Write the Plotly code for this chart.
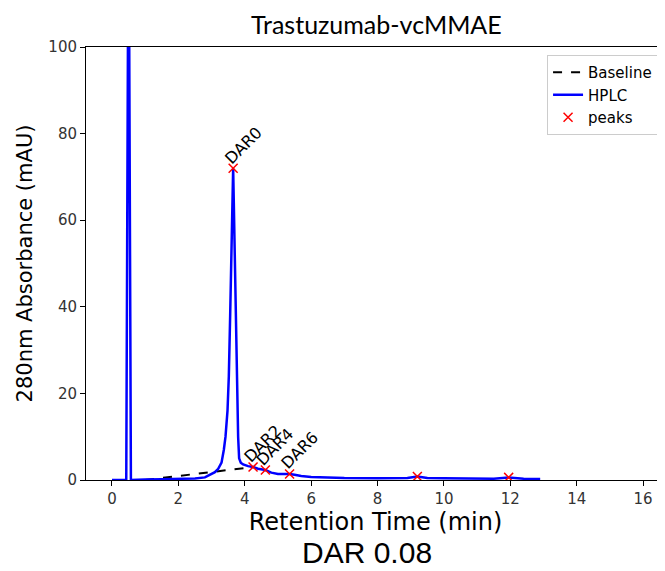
import plotly.graph_objects as go

# HPLC trace (retention time in min, absorbance in mAU)
hplc_time = [0.0, 0.40, 0.43, 0.495, 0.505, 0.57, 0.60, 1.0, 1.5, 2.0, 2.5, 2.8,
             3.0, 3.1, 3.2, 3.3, 3.37, 3.42, 3.48, 3.52, 3.56, 3.60, 3.63, 3.65,
             3.67, 3.70, 3.73, 3.76, 3.80, 3.83, 3.88, 3.95, 4.1, 4.25, 4.4, 4.62,
             4.8, 5.0, 5.2, 5.35, 5.5, 5.7, 6.0, 6.5, 7.0, 8.0, 8.9, 9.2, 9.5,
             10.0, 10.9, 11.5, 11.95, 12.4, 12.9]
hplc_abs = [0.0, 0.0, 0.0, 130.0, 130.0, 0.0, 0.0, 0.1, 0.2, 0.25, 0.35, 0.6,
            1.3, 1.8, 2.6, 4.0, 7.0, 10.0, 16.0, 24.0, 38.0, 57.0, 68.0, 72.0,
            64.0, 50.0, 38.0, 22.0, 10.0, 5.0, 4.0, 3.6, 3.2, 3.0, 2.6, 2.3,
            1.7, 1.4, 1.4, 1.4, 1.2, 0.9, 0.7, 0.5, 0.45, 0.4, 0.45, 0.8, 0.45,
            0.4, 0.35, 0.3, 0.6, 0.3, 0.25]

baseline_time = [1.0, 4.25]
baseline_abs = [0.0, 3.0]

peak_time = [3.65, 4.25, 4.62, 5.35, 9.2, 11.95]
peak_abs = [72.0, 3.0, 2.3, 1.4, 0.8, 0.6]
peak_labels = ["DAR0", "DAR2", "DAR4", "DAR6", "", ""]

title_text = "Trastuzumab-vcMMAE"
dar_text = "DAR 0.08"

fig = go.Figure()

fig.add_trace(go.Scatter(
    x=baseline_time, y=baseline_abs, mode="lines", name="Baseline",
    line=dict(color="black", width=2, dash="dash")
))
fig.add_trace(go.Scatter(
    x=hplc_time, y=hplc_abs, mode="lines", name="HPLC",
    line=dict(color="#0000ff", width=2.5)
))
fig.add_trace(go.Scatter(
    x=peak_time, y=peak_abs, mode="markers", name="peaks",
    marker=dict(symbol="x-thin", size=9, color="red",
                line=dict(color="red", width=1.5))
))

for t, a, lab in zip(peak_time, peak_abs, peak_labels):
    if not lab:
        continue
    fig.add_annotation(
        x=t, y=a, text=lab, showarrow=False, textangle=-45,
        xanchor="left", yanchor="bottom", xshift=-15, yshift=-2,
        font=dict(family="DejaVu Sans", size=16, color="black")
    )

fig.add_annotation(
    x=0.502, y=1.0, xref="paper", yref="paper", yshift=23,
    text=title_text, showarrow=False, xanchor="center", yanchor="middle",
    font=dict(family="Lato", size=25, color="black")
)
fig.add_annotation(
    x=0.485, y=-0.2102, xref="paper", yref="paper",
    text=dar_text, showarrow=False, xanchor="center", yanchor="bottom",
    font=dict(family="Liberation Sans", size=30, color="black")
)

fig.update_xaxes(
    range=[-0.783, 16.66], tickmode="array", tickvals=list(range(0, 17, 2)),
    showline=True, linecolor="black", linewidth=1, mirror=True, automargin=False,
    ticks="outside", ticklen=5, tickcolor="black", showgrid=False, zeroline=False,
    tickfont=dict(family="DejaVu Sans", size=15, color="#333333"),
    title=dict(text="Retention Time (min)", standoff=0,
               font=dict(family="DejaVu Sans", size=24, color="black"))
)
fig.update_yaxes(
    range=[0, 100], tickmode="array", tickvals=list(range(0, 101, 20)),
    showline=True, linecolor="black", linewidth=1, automargin=False,
    ticks="outside", ticklen=5, tickcolor="black", showgrid=False, zeroline=False,
    tickfont=dict(family="DejaVu Sans", size=15, color="#333333"),
    title=dict(text="280nm Absorbance (mAU)", standoff=10,
               font=dict(family="DejaVu Sans", size=21, color="black"))
)

# the page puts the figure 8 px in from the top-left corner
fig.update_layout(
    width=657, height=563,
    margin=dict(l=78, r=0, t=39, b=91),
    plot_bgcolor="white", paper_bgcolor="white",
    legend=dict(x=0.988, y=0.9815, xanchor="right", yanchor="top",
                bgcolor="white", bordercolor="#cccccc", borderwidth=1,
                font=dict(family="DejaVu Sans", size=15, color="black")),
)

fig.write_html("out.html")
